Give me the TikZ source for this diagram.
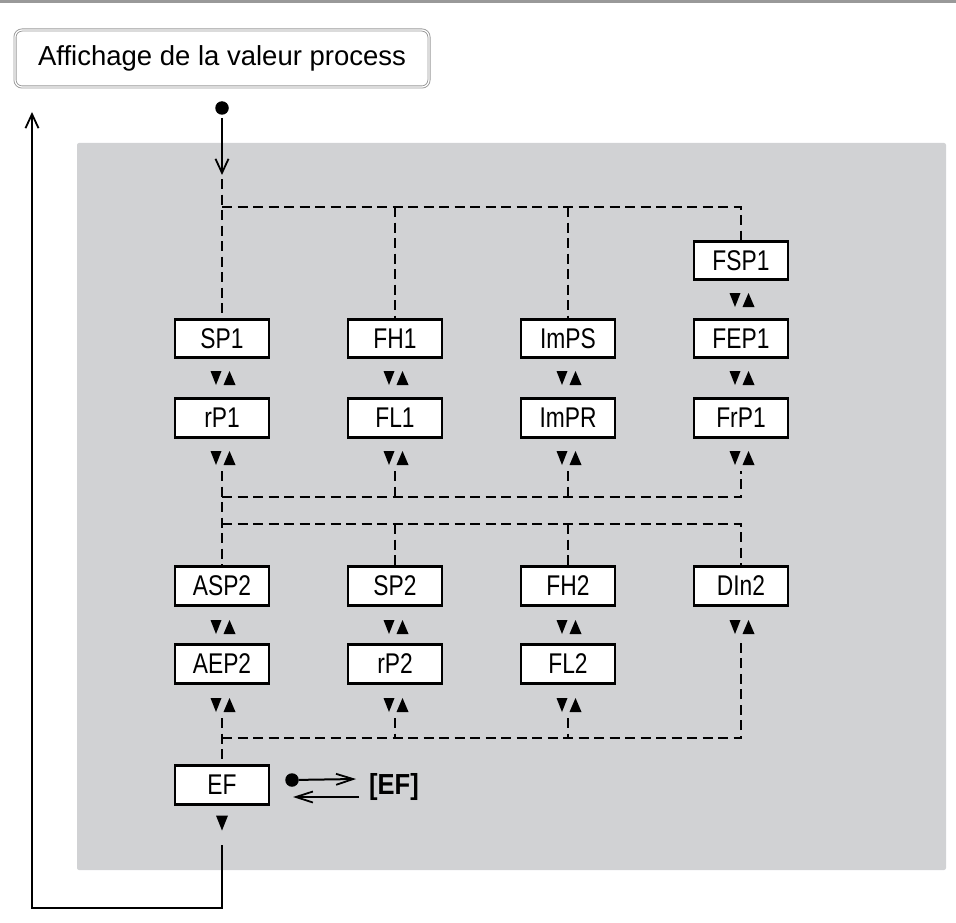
\documentclass[tikz,border=0pt]{standalone}
\usepackage{fontspec}
\setmainfont{Liberation Sans}
\newfontfamily\narrowfont[FakeStretch=0.8]{Liberation Sans}
\newfontfamily\narrowbold[FakeStretch=0.88]{Liberation Sans Bold}
\usetikzlibrary{arrows.meta}
\definecolor{panel}{HTML}{D1D2D4}
\tikzset{
  parbox/.style={draw=black, line width=2.8pt, fill=white, minimum width=94pt,
    minimum height=38.5pt, inner sep=0pt, font=\narrowfont\fontsize{28.5}{30}\selectfont},
  pairnode/.style={minimum width=26pt, minimum height=26pt, inner sep=0pt},
  dashline/.style={line width=2.1pt, dash pattern=on 10pt off 5.5pt},
  solidline/.style={line width=2pt},
  barb/.style={-{Straight Barb[length=14pt,width=13pt,line width=1.8pt]}},
  smallbarb/.style={-{Straight Barb[length=17pt,width=11pt,line width=1.8pt]}},
  blackdot/.style={circle, fill=black, minimum size=13.5pt, inner sep=0pt},
  pics/updown/.style={code={
    \fill (-11.5,-7) -- (-0.5,-7) -- (-6,7) -- cycle;
    \fill (1.5,7) -- (13.5,7) -- (7.5,-7) -- cycle;
  }},
  pics/downonly/.style={code={
    \fill (-6,-7.5) -- (6,-7.5) -- (0,7.5) -- cycle;
  }}
}
\begin{document}
\begin{tikzpicture}[x=1pt,y=-1pt]
\useasboundingbox (0,0) rectangle (956,923);
% top rule and panel
\draw[gray!80, line width=2.2pt] (0,1.5) -- (956,1.5);
\fill[panel, rounded corners=2pt] (77,143) rectangle (946,870);

% title
\node[draw=gray!80, double=white, double distance=1.2pt, line width=0.9pt,
  rounded corners=7pt, minimum width=414pt, minimum height=57pt, inner sep=0pt,
  font=\fontsize{27.5}{30}\selectfont, fill=white] (title) at (222,58.5) {Affichage de la valeur process};

% entry dot and arrow
\node[blackdot] (dot0) at (222,108) {};
\coordinate (in) at (222,175);
\draw[solidline, barb, shorten <=3pt] (dot0) -- (in);

% boxes
\node[parbox] (FSP1) at (741,260.5) {FSP1};
\node[parbox] (SP1)  at (222,338.5) {SP1};
\node[parbox] (FH1)  at (395,338.5) {FH1};
\node[parbox] (ImPS) at (568,338.5) {ImPS};
\node[parbox] (FEP1) at (741,338.5) {FEP1};
\node[parbox] (rP1)  at (222,418) {rP1};
\node[parbox] (FL1)  at (395,418) {FL1};
\node[parbox] (ImPR) at (568,418) {ImPR};
\node[parbox] (FrP1) at (741,418) {FrP1};
\node[parbox] (ASP2) at (222,586) {ASP2};
\node[parbox] (SP2)  at (395,586) {SP2};
\node[parbox] (FH2)  at (568,586) {FH2};
\node[parbox] (DIn2) at (741,586) {DIn2};
\node[parbox] (AEP2) at (222,664) {AEP2};
\node[parbox] (rP2)  at (395,664) {rP2};
\node[parbox] (FL2)  at (568,664) {FL2};
\node[parbox] (EF)   at (222,785) {EF};

% up/down triangle pairs
\foreach \n/\x/\y in {pF0/741/300, pSP1/222/378, pFH1/395/378, pImPS/568/378, pFEP1/741/378,
  prP1/222/458, pFL1/395/458, pImPR/568/458, pFrP1/741/458,
  pASP2/222/627, pSP2/395/627, pFH2/568/627, pDIn2/741/627,
  pAEP2/222/705, prP2/395/705, pFL2/568/705}{
  \node[pairnode] (\n) at (\x,\y) {};
  \pic at (\x,\y) {updown};
}
\node[pairnode, minimum height=44pt] (pEF) at (222,823) {};
\pic at (222,823) {downonly};

% junction coordinates
\coordinate (j0) at (222,207);
\coordinate (j1) at (222,497);
\coordinate (j2) at (222,524);
\coordinate (j3) at (222,738);

% top dashed network
\draw[dashline] (in) ++(0,4) -- (SP1.north);
\draw[dashline] (j0) -| (FSP1.north);
\draw[dashline] (FH1.north |- j0) -- (FH1.north);
\draw[dashline] (ImPS.north |- j0) -- (ImPS.north);

% middle dashed network
\draw[dashline] (prP1.south) -- (ASP2.north);
\draw[dashline] (j1) -| (pFrP1.south);
\draw[dashline] (pFL1.south) -- (pFL1.south |- j1);
\draw[dashline] (pImPR.south) -- (pImPR.south |- j1);
\draw[dashline] (j2) -| (DIn2.north);
\draw[dashline] (SP2.north |- j2) -- (SP2.north);
\draw[dashline] (FH2.north |- j2) -- (FH2.north);

% bottom dashed network
\draw[dashline] (pAEP2.south) -- (EF.north);
\draw[dashline] (j3) -| (pDIn2.south);
\draw[dashline] (prP2.south) -- (prP2.south |- j3);
\draw[dashline] (pFL2.south) -- (pFL2.south |- j3);

% return path
\coordinate (rb) at (222,908);
\coordinate (lb) at (32,908);
\coordinate (lt) at (32,112);
\draw[solidline, barb] (pEF.south) -- (rb) -- (lb) -- (lt);

% EF side arrows
\node[blackdot] (dot1) at (292,780) {};
\node[font=\narrowbold\fontsize{29}{30}\selectfont, inner sep=0pt] (efl) at (394,787) {[EF]};
\coordinate (efa) at (356,779);
\coordinate (efb) at (359,797);
\coordinate (efc) at (293,797);
\draw[solidline, smallbarb] (dot1) -- (efa);
\draw[solidline, smallbarb] (efb) -- (efc);
\end{tikzpicture}
\end{document}
